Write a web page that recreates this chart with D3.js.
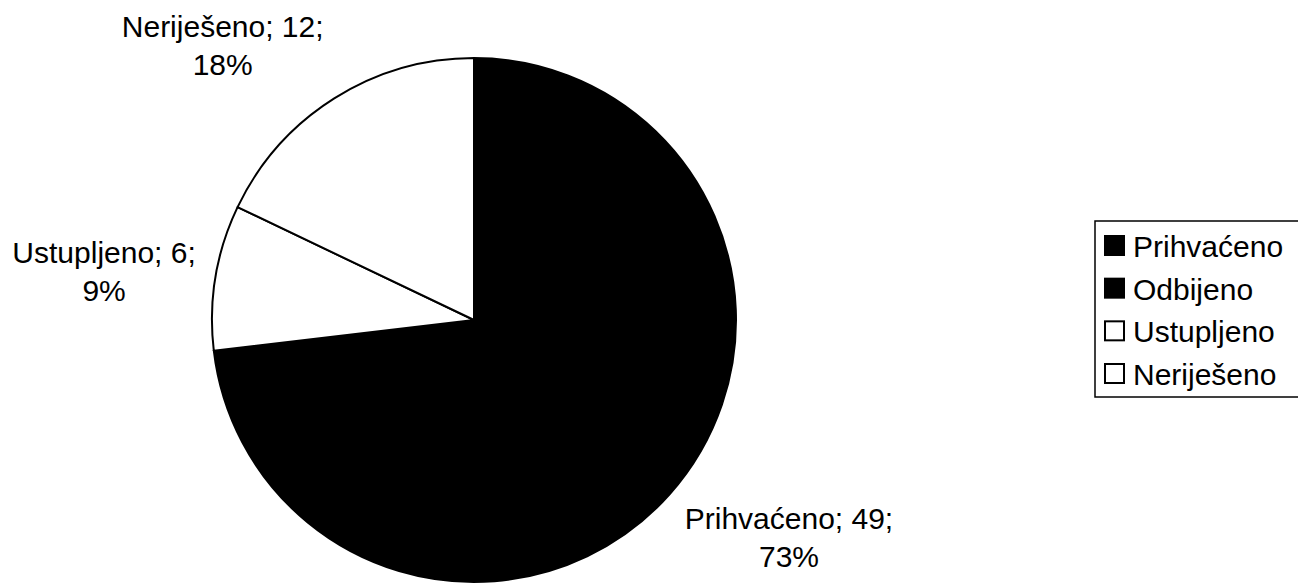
<!DOCTYPE html>
<html>
<head>
<meta charset="utf-8">
<script src="https://cdn.jsdelivr.net/npm/d3@7"></script>
<style>
  html, body { margin: 0; padding: 0; background: #fff; }
  svg { display: block; font-family: "Liberation Sans", Arial, sans-serif; }
</style>
</head>
<body>
<svg id="chart" width="1298" height="587"></svg>
<script>
// ---- data ----
const categories = ["Prihvaćeno", "Odbijeno", "Ustupljeno", "Neriješeno"];
const values = [49, 0, 6, 12];
const percentLabels = ["73%", "0%", "9%", "18%"];
const colors = ["#000000", "#000000", "#ffffff", "#ffffff"];

// ---- layout ----
const W = 1298, H = 587;
const cx = 474, cy = 320, R = 262;
const fontSize = 30;
const svg = d3.select("#chart");

const rows = categories.map((c, i) => ({ name: c, value: values[i], pct: percentLabels[i], color: colors[i] }));

const pie = d3.pie().sort(null).value(d => d.value).startAngle(0).endAngle(2 * Math.PI);
const arc = d3.arc().innerRadius(0).outerRadius(R);
const arcs = pie(rows);

const g = svg.append("g").attr("transform", `translate(${cx},${cy})`);
g.selectAll("path.slice")
  .data(arcs)
  .join("path")
  .attr("class", "slice")
  .attr("d", arc)
  .attr("fill", d => d.data.color)
  .attr("stroke", "#000")
  .attr("stroke-width", 2)
  .attr("stroke-linejoin", "round");

// ---- data labels (outside end) ----
const labelArc = d3.arc().innerRadius(R + 20).outerRadius(R + 20);
const lineGap = 38, boxH = 66, firstBase = 22;
function factor(v) {
  const a = Math.abs(v);
  return Math.sign(v) * Math.max(0, Math.min(1, (a - 0.2) / 0.3));
}
const labels = g.selectAll("g.lbl")
  .data(arcs.filter(d => d.value > 0))
  .join("g")
  .attr("class", "lbl");

labels.each(function(d) {
  const sel = d3.select(this);
  const t1 = sel.append("text")
    .attr("text-anchor", "middle")
    .attr("font-size", fontSize)
    .attr("fill", "#000")
    .text(`${d.data.name}; ${d.data.value};`);
  const w = t1.node().getComputedTextLength();
  const mid = (d.startAngle + d.endAngle) / 2;
  const [ax, ay] = labelArc.centroid({ startAngle: mid, endAngle: mid });
  const s = Math.sin(mid), c = Math.cos(mid);
  const bx = ax + factor(s) * w / 2;
  const by = ay - factor(c) * boxH / 2;
  const top = by - boxH / 2;
  t1.attr("x", bx).attr("y", top + firstBase);
  sel.append("text")
    .attr("text-anchor", "middle")
    .attr("font-size", fontSize)
    .attr("fill", "#000")
    .attr("x", bx)
    .attr("y", top + firstBase + lineGap)
    .text(d.data.pct);
});

// ---- legend ----
const legX = 1095, legTop = 221, legBottom = 397;
const rowY = d3.scaleLinear().domain([0, categories.length - 1]).range([257, 385]);
svg.append("rect")
  .attr("x", legX).attr("y", legTop)
  .attr("width", W - legX + 10).attr("height", legBottom - legTop)
  .attr("fill", "#fff").attr("stroke", "#000").attr("stroke-width", 1.5);

const leg = svg.selectAll("g.leg")
  .data(rows)
  .join("g")
  .attr("class", "leg")
  .attr("transform", (d, i) => `translate(${legX + 10},${rowY(i)})`);
leg.append("rect")
  .attr("x", 0).attr("y", -21)
  .attr("width", 19).attr("height", 19)
  .attr("fill", d => d.color)
  .attr("stroke", "#000").attr("stroke-width", 2);
leg.append("text")
  .attr("x", 28).attr("y", 0)
  .attr("font-size", fontSize)
  .attr("fill", "#000")
  .text(d => d.name);
</script>
</body>
</html>
